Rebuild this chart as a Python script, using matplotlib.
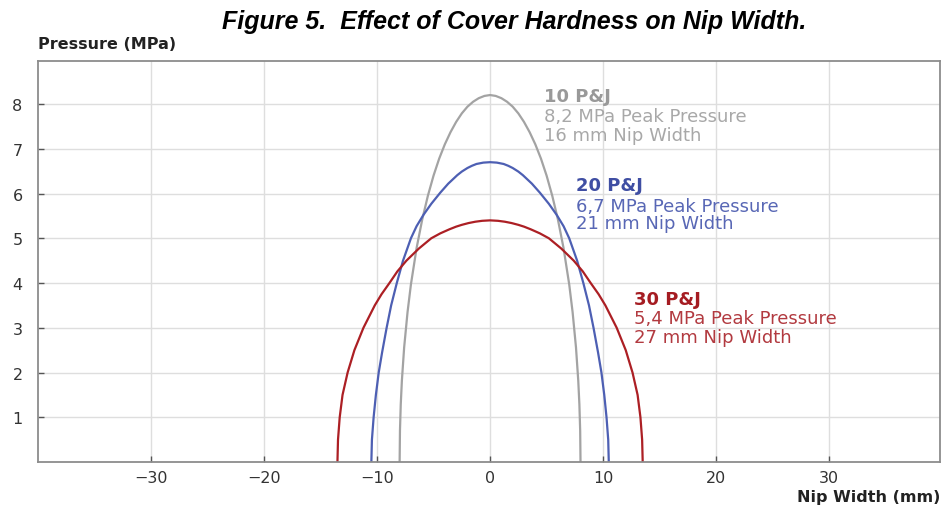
import matplotlib
matplotlib.use("Agg")
import matplotlib.pyplot as plt

# --------------------------
# Data
# --------------------------
# 10 P&J cover: 8,2 MPa peak, 16 mm nip
x_10pj = [-8.0, -7.97, -7.9, -7.8, -7.6, -7.3, -7.0, -6.5, -6.0, -5.5, -5.0, -4.5, -4.0, -3.5,
          -3.0, -2.5, -2.0, -1.5, -1.0, -0.5, 0.0,
          0.5, 1.0, 1.5, 2.0, 2.5, 3.0, 3.5, 4.0, 4.5, 5.0, 5.5, 6.0, 6.5,
          7.0, 7.3, 7.6, 7.8, 7.9, 7.97, 8.0]
y_10pj = [0.0, 0.7, 1.29, 1.82, 2.56, 3.35, 3.97, 4.78, 5.42, 5.95, 6.4, 6.78, 7.1, 7.37,
          7.6, 7.79, 7.94, 8.05, 8.13, 8.18, 8.2,
          8.18, 8.13, 8.05, 7.94, 7.79, 7.6, 7.37, 7.1, 6.78, 6.4, 5.95, 5.42, 4.78,
          3.97, 3.35, 2.56, 1.82, 1.29, 0.7, 0.0]

# 20 P&J cover: 6,7 MPa peak, 21 mm nip
x_20pj = [-10.5, -10.45, -10.3, -10.1, -9.85, -9.55, -9.15, -8.75, -8.25, -7.7, -7.0, -6.5, -5.9,
          -5.2, -4.4, -3.7, -2.9, -2.5, -2.0, -1.6, -1.2, -0.6, 0.0,
          0.6, 1.2, 1.6, 2.0, 2.5, 2.9, 3.7, 4.4, 5.2,
          5.9, 6.5, 7.0, 7.7, 8.25, 8.75, 9.15, 9.55, 9.85, 10.1, 10.3, 10.45, 10.5]
y_20pj = [0.0, 0.5, 1.0, 1.5, 2.0, 2.45, 3.0, 3.5, 4.0, 4.5, 5.0, 5.27, 5.52,
          5.77, 6.02, 6.22, 6.41, 6.49, 6.57, 6.62, 6.66, 6.69, 6.7,
          6.69, 6.66, 6.62, 6.57, 6.49, 6.41, 6.22, 6.02, 5.77,
          5.52, 5.27, 5.0, 4.5, 4.0, 3.5, 3.0, 2.45, 2.0, 1.5, 1.0, 0.5, 0.0]

# 30 P&J cover: 5,4 MPa peak, 27 mm nip
x_30pj = [-13.5, -13.45, -13.3, -13.05, -12.6, -12.0, -11.2, -10.2, -9.6, -8.9, -8.2, -7.4, -6.3,
          -5.2, -4.4, -3.6, -3.0, -2.5, -1.9, -1.3, -0.7, 0.0,
          0.7, 1.3, 1.9, 2.5, 3.0, 3.6, 4.4, 5.2,
          6.3, 7.4, 8.2, 8.9, 9.6, 10.2, 11.2, 12.0, 12.6, 13.05, 13.3, 13.45, 13.5]
y_30pj = [0.0, 0.5, 1.0, 1.5, 2.0, 2.5, 3.0, 3.5, 3.75, 4.0, 4.26, 4.5, 4.77,
          5.0, 5.11, 5.2, 5.26, 5.3, 5.34, 5.37, 5.39, 5.4,
          5.39, 5.37, 5.34, 5.3, 5.26, 5.2, 5.11, 5.0,
          4.77, 4.5, 4.26, 4.0, 3.75, 3.5, 3.0, 2.5, 2.0, 1.5, 1.0, 0.5, 0.0]

x_ticks = [-30, -20, -10, 0, 10, 20, 30]
y_ticks = [1, 2, 3, 4, 5, 6, 7, 8]

labels_10pj = ["10 P&J", "8,2 MPa Peak Pressure", "16 mm Nip Width"]
labels_20pj = ["20 P&J", "6,7 MPa Peak Pressure", "21 mm Nip Width"]
labels_30pj = ["30 P&J", "5,4 MPa Peak Pressure", "27 mm Nip Width"]

# --------------------------
# Style
# --------------------------
plt.rcParams['font.family'] = ['DejaVu Sans']
GRAY = '#a3a3a3'
BLUE = '#4d5fb3'
RED = '#ac1f24'
SPINE = '#8c8c8c'

fig = plt.figure(figsize=(9.46, 5.10), dpi=100)
ax = fig.add_axes([0.040, 0.092, 0.9537, 0.7864])

ax.plot(x_10pj, y_10pj, color=GRAY, lw=1.6, solid_joinstyle='round')
ax.plot(x_20pj, y_20pj, color=BLUE, lw=1.6, solid_joinstyle='round')
ax.plot(x_30pj, y_30pj, color=RED, lw=1.6, solid_joinstyle='round')

ax.set_xlim(-40, 39.8)
ax.set_ylim(0, 8.96)
ax.set_xticks(x_ticks)
ax.set_yticks(y_ticks)
ax.grid(True, color='#dedede', lw=1.0)
ax.set_axisbelow(True)
for s in ax.spines.values():
    s.set_color(SPINE)
    s.set_linewidth(1.3)
ax.tick_params(axis='both', direction='in', length=4, width=1, color='#555555',
               labelsize=11.5, labelcolor='#333333')
ax.tick_params(axis='y', pad=11)
ax.tick_params(axis='x', pad=6)

# --------------------------
# Annotations
# --------------------------
def note(x, ys, lines, color, boldcolor):
    for i, (y, t) in enumerate(zip(ys, lines)):
        ax.text(x, y, t, color=boldcolor if i == 0 else color,
                fontsize=13, fontweight='bold' if i == 0 else 'normal',
                va='baseline', ha='left')

note(4.8, [8.06, 7.62, 7.20], labels_10pj, '#a8a8a8', '#999999')
note(7.6, [6.07, 5.62, 5.22], labels_20pj, '#5867b5', '#3f4ea3')
note(12.75, [3.54, 3.10, 2.68], labels_30pj, '#b23a40', '#a51c22')

fig.text(0.544, 0.956, "Figure 5.  Effect of Cover Hardness on Nip Width.",
         ha='center', va='center', fontsize=18, fontweight='bold', style='italic',
         family=['Liberation Sans', 'DejaVu Sans'])
fig.text(0.040, 0.912, "Pressure (MPa)", ha='left', va='center', fontsize=11.5,
         fontweight='bold', color='#222222')
fig.text(0.9937, 0.024, "Nip Width (mm)", ha='right', va='center', fontsize=11.5,
         fontweight='bold', color='#222222')

fig.savefig("out.png", dpi=100)
